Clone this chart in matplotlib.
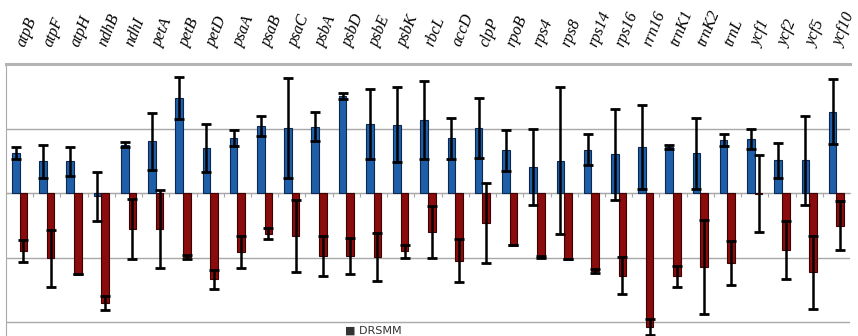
import numpy as np
import matplotlib
matplotlib.use("Agg")
import matplotlib.pyplot as plt
from matplotlib.transforms import ScaledTranslation

# genes along the top
genes = ["atpB", "atpF", "atpH", "ndhB", "ndhI", "petA", "petB", "petD", "psaA", "psaB",
         "psaC", "psbA", "psbD", "psbE", "psbK", "rbcL", "accD", "clpP", "rpoB", "rps4",
         "rps8", "rps14", "rps16", "rrn16", "trnK1", "trnK2", "trnL", "ycf1", "ycf2",
         "ycf5", "ycf10"]

# blue series (up) and its error
up_vals = [0.62, 0.49, 0.49, -0.05, 0.75, 0.80, 1.47, 0.70, 0.85, 1.04,
           1.01, 1.03, 1.50, 1.07, 1.06, 1.13, 0.85, 1.01, 0.66, 0.41,
           0.50, 0.67, 0.60, 0.72, 0.71, 0.62, 0.82, 0.84, 0.51, 0.51, 1.26]
up_err = [0.09, 0.25, 0.22, 0.38, 0.04, 0.44, 0.33, 0.37, 0.12, 0.16,
          0.77, 0.23, 0.05, 0.54, 0.58, 0.60, 0.32, 0.47, 0.32, 0.59,
          1.14, 0.24, 0.71, 0.65, 0.03, 0.55, 0.09, 0.16, 0.27, 0.69, 0.50]

# red series (down) and its error
down_vals = [-0.90, -1.01, -1.25, -1.70, -0.56, -0.56, -0.99, -1.34, -0.92, -0.63,
             -0.67, -0.98, -0.97, -0.99, -0.90, -0.60, -1.05, -0.46, -0.80, -0.99,
             -1.03, -1.21, -1.28, -2.08, -1.29, -1.15, -1.08, -0.01, -0.88, -1.23, -0.51]
down_err = [0.17, 0.44, 0.0, 0.11, 0.46, 0.61, 0.03, 0.15, 0.25, 0.08,
            0.56, 0.31, 0.28, 0.37, 0.10, 0.40, 0.33, 0.62, 0.0, 0.02,
            0.0, 0.03, 0.29, 0.12, 0.16, 0.73, 0.34, 0.60, 0.45, 0.57, 0.38]

fig = plt.figure(figsize=(8.58, 3.36), dpi=100)
ax = fig.add_axes([6 / 858, -0.016, 844 / 858, 0.8255])

x = np.arange(len(genes))
w = 0.28
ekw = dict(ecolor="black", elinewidth=1.8, capsize=3.5, capthick=2)
ax.bar(x - w / 2, up_vals, w, yerr=up_err, color="#1f5ea8", edgecolor="#0c2850",
       linewidth=0.8, error_kw=ekw, zorder=3)
ax.bar(x + w / 2, down_vals, w, yerr=down_err, color="#8a0c0c", edgecolor="#3a0202",
       linewidth=0.8, error_kw=ekw, zorder=3)

ax.set_xlim(-0.5, len(genes) - 0.5)
ax.set_ylim(-2.3, 2.0)
ax.set_yticks([-2, -1, 0, 1, 2])
ax.tick_params(axis="y", length=0, labelleft=False)
ax.yaxis.grid(True, color="#a8a8a8", linewidth=1.0, zorder=0)

# x axis sits at zero, small marks between the genes
ax.spines["bottom"].set_position(("data", 0))
ax.spines["bottom"].set_color("#a8a8a8")
ax.set_xticks(x[:-1] + 0.5)
ax.tick_params(axis="x", length=3, color="#a8a8a8", labelbottom=False)
ax.spines["left"].set_color("#a8a8a8")
ax.spines["right"].set_visible(False)
ax.spines["top"].set_color("#b4b4b4")
ax.spines["top"].set_linewidth(2.2)

sec = ax.secondary_xaxis("top")
sec.set_xticks(x)
sec.set_xticklabels(genes, rotation=68, ha="left", va="bottom",
                    family="Liberation Serif", style="italic", fontsize=11.5)
sec.tick_params(length=0, pad=11)
sec.spines["top"].set_visible(False)
shift = ScaledTranslation(-6 / 100, 0, fig.dpi_scale_trans)
for lbl in sec.get_xticklabels():
    lbl.set_transform(lbl.get_transform() + shift)

fig.text(345 / 858, 0.002, "\u25a0 DRSMM", fontsize=8, color="#333333", va="bottom")

fig.savefig("out.png", dpi=100)
